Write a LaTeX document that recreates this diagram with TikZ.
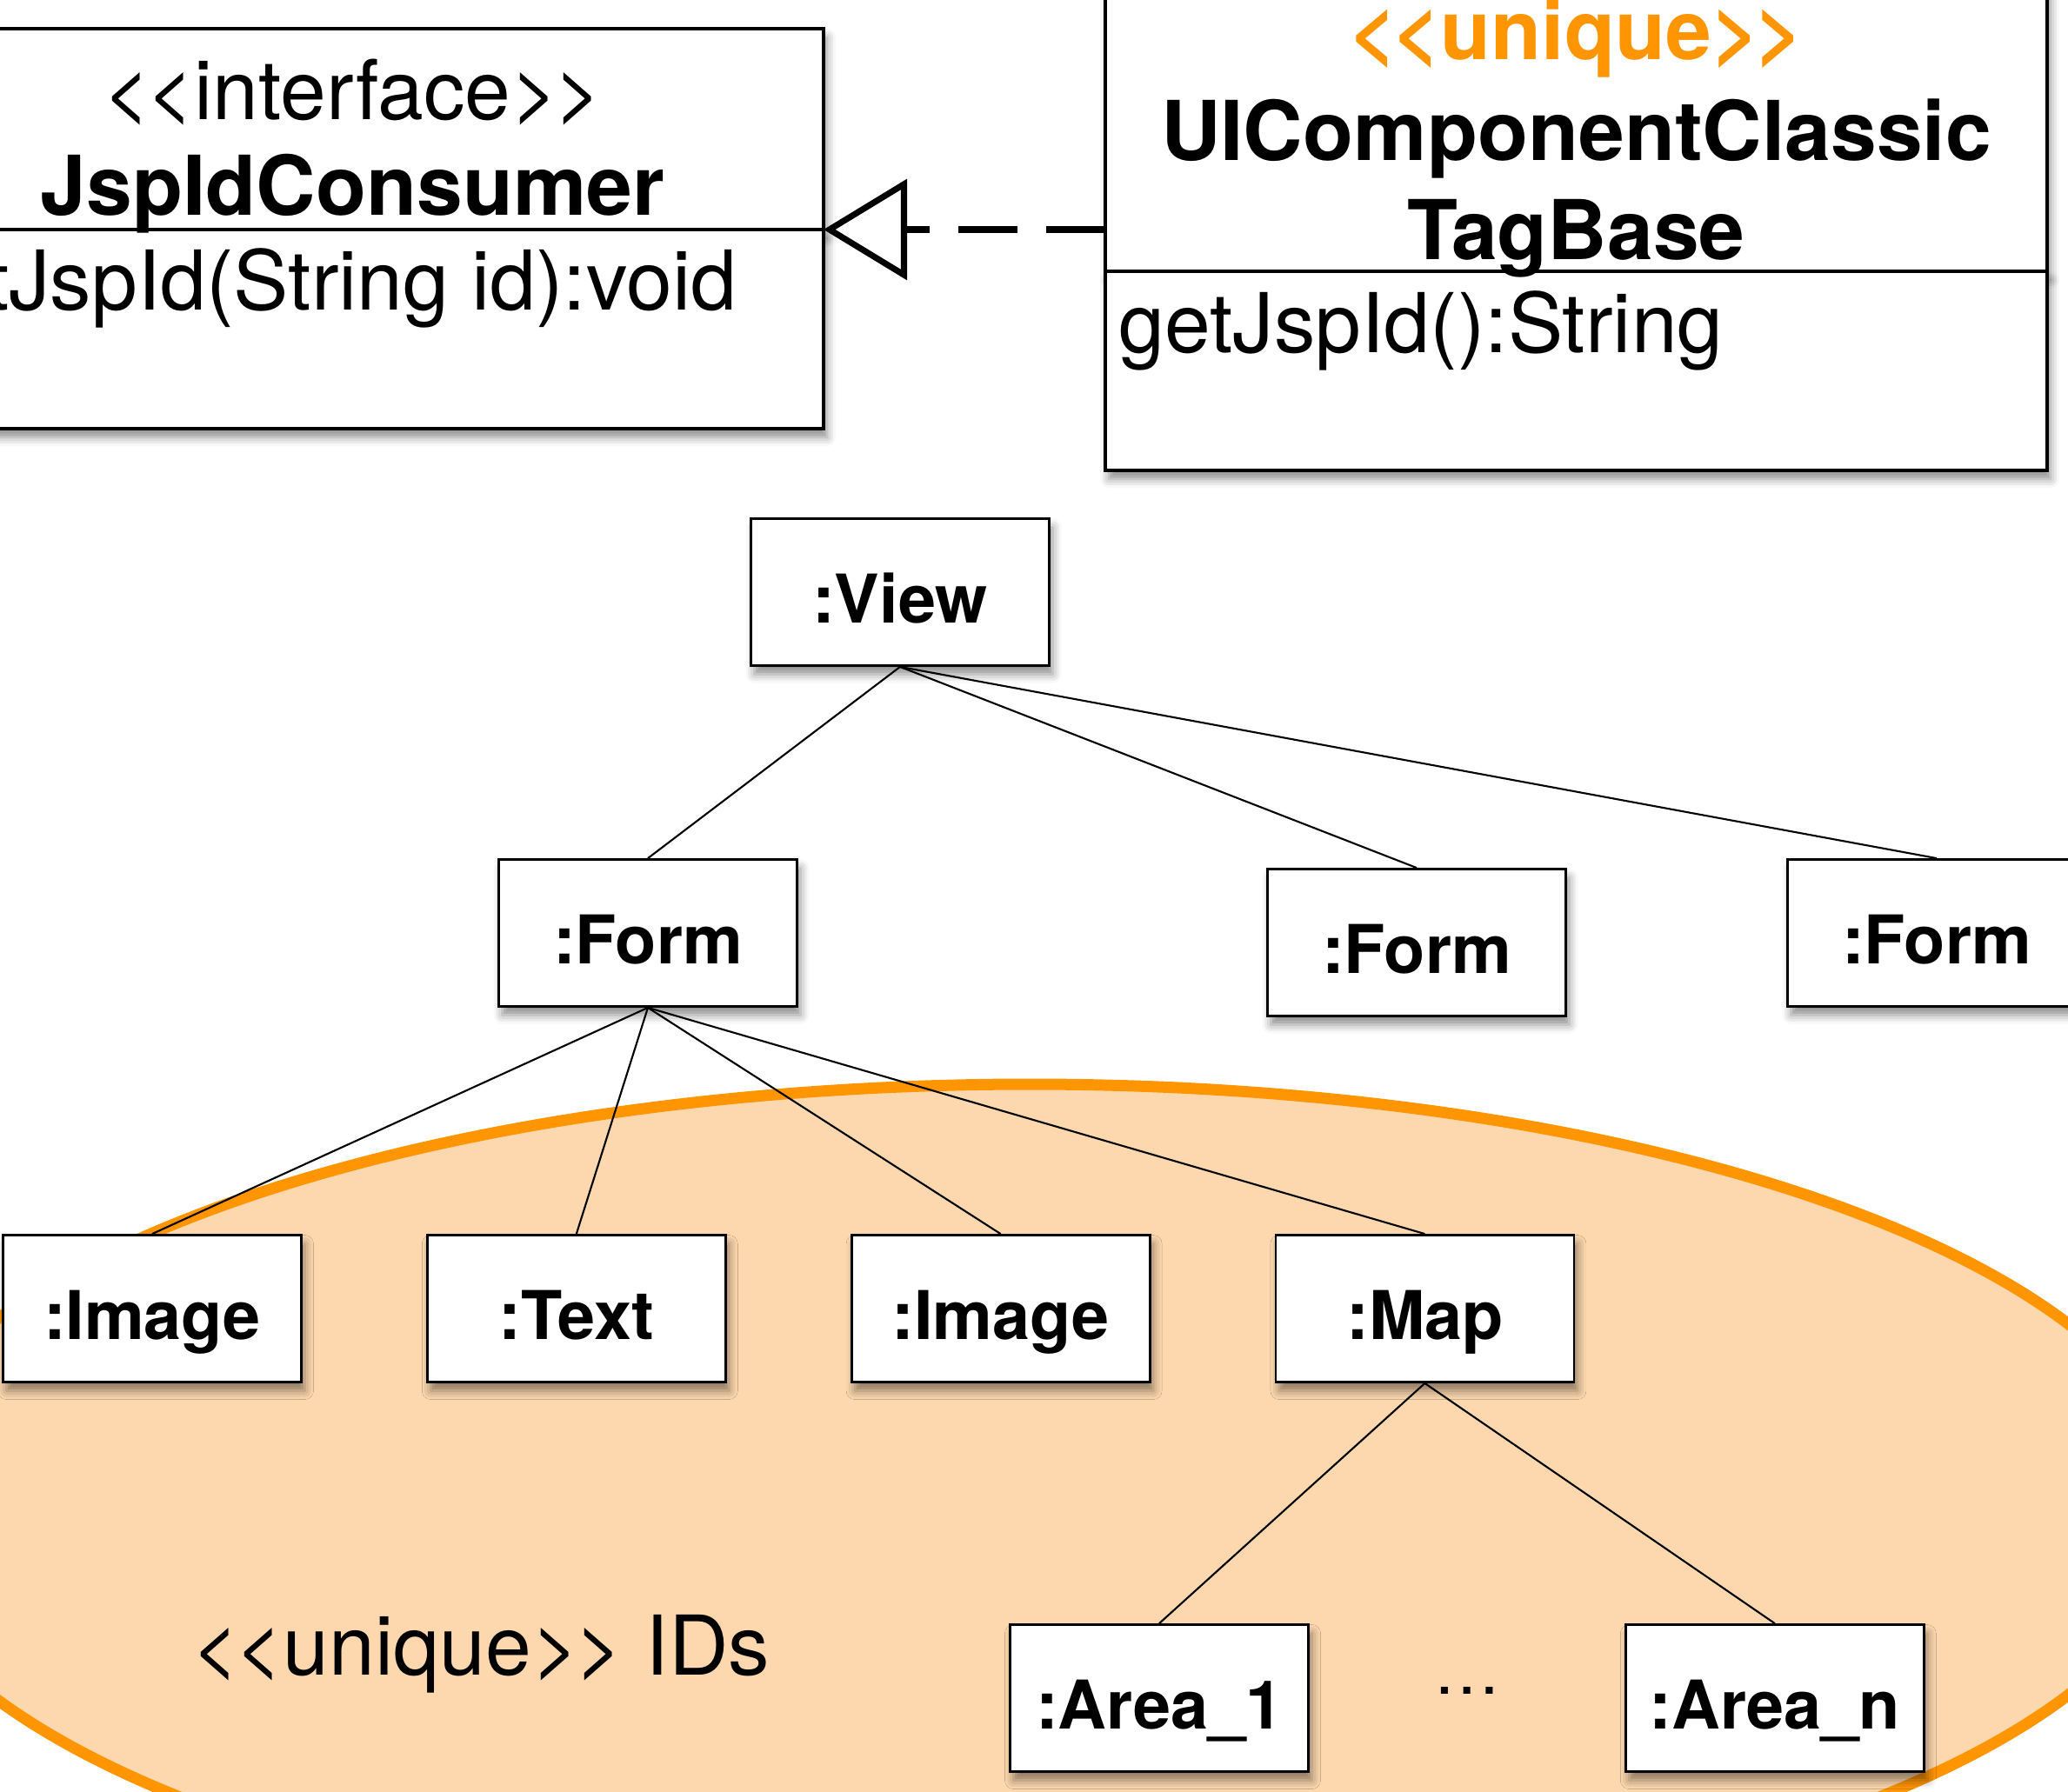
\documentclass[tikz,border=0pt]{standalone}
\usepackage{fontspec}
\setmainfont{TeX Gyre Heros}
\usetikzlibrary{calc,positioning,arrows.meta,shadows.blur}

\definecolor{idorange}{RGB}{255,149,0}
\definecolor{idfill}{RGB}{253,216,174}
\newcommand{\stereotype}[1]{<\kern-0.06em<#1>\kern-0.06em>}
\newcommand{\umlsize}{\fontsize{27}{32}\selectfont}
\newcommand{\instsize}{\fontsize{22}{26}\selectfont}

\begin{document}
\begin{tikzpicture}[
    boxshadow/.style={blur shadow={shadow xshift=0.04cm, shadow yshift=-0.1cm, shadow blur radius=0.1cm, shadow opacity=45}},
    umlpart/.style={draw, fill=white, line width=1.3pt, outer sep=0, minimum width=10.83cm, boxshadow},
    umltext/.style={inner sep=0, font=\umlsize},
    inst/.style={draw, fill=white, line width=0.8pt, minimum width=3.43cm, minimum height=1.69cm,
      text height=0.9cm, text depth=0.2cm, font=\instsize\bfseries, boxshadow},
    link/.style={line width=0.6pt},
    realize/.style={line width=2pt, dash pattern=on 0.68cm off 0.33cm,
      -{Triangle[open, length=0.96cm, width=1.15cm]}},
  ]
  \useasboundingbox (0,0) rectangle (23.78,-20.61);
  \clip (0,0) rectangle (23.78,-20.61);

  % unique id region
  \draw[idorange, fill=idfill, line width=0.13cm]
    (11.84,-17.36) ellipse [x radius=13.27cm, y radius=4.89cm];

  % interface box
  \node[umlpart, minimum height=2.31cm, anchor=north west] (ifc) at (-1.36,-0.33) {};
  \node[umlpart, minimum height=2.29cm, anchor=north] (ifcops) at (ifc.south) {};
  \node[umltext, anchor=base] (ifcstereo) at ($(ifc.north)+(0,-1.04)$) {\stereotype{interface}};
  \node[umltext, font=\umlsize\bfseries, anchor=base] (ifcname) at ($(ifc.north)+(0,-2.14)$) {JspIdConsumer};
  \node[umltext, anchor=base west] (ifcop) at ($(ifcops.north west)+(0.2,-0.92)$) {setJspId(String id):void};

  % tag base class box
  \node[umlpart, minimum height=3.48cm, anchor=north west] (uic) at (12.71,0.36) {};
  \node[umlpart, minimum height=2.29cm, anchor=north] (uicops) at (uic.south) {};
  \node[umltext, text=idorange, font=\umlsize\bfseries, anchor=base] (uicstereo) at ($(uic.north)+(0,-1.04)$) {\stereotype{unique}};
  \node[umltext, font=\umlsize\bfseries, anchor=base] (uicname1) at ($(uic.north)+(0,-2.20)$) {UIComponentClassic};
  \node[umltext, font=\umlsize\bfseries, anchor=base] (uicname2) at ($(uic.north)+(0,-3.34)$) {TagBase};
  \node[umltext, anchor=base west] (uicop) at ($(uicops.north west)+(0.15,-0.93)$) {getJspId():String};

  % realization
  \draw[realize] (uic.west |- ifc.south east) -- (ifc.south east);

  % component tree
  \node[inst] (view) at (10.35,-6.81) {:View};
  \node[inst] (form1) at (7.45,-10.73) {:Form};
  \node[inst] (form2) at (16.29,-10.84) {:Form};
  \node[inst] (form3) at (22.27,-10.73) {:Form};
  \node[inst] (img1) at (1.75,-15.05) {:Image};
  \node[inst, right=1.42 of img1] (text) {:Text};
  \node[inst, right=1.42 of text] (img2) {:Image};
  \node[inst, right=1.42 of img2] (map) {:Map};
  \node[inst] (area1) at (13.33,-19.53) {:Area\_1};
  \node[inst, right=3.62 of area1] (arean) {:Area\_n};
  \node[font=\instsize, inner sep=0] (adots) at ($(area1)!0.5!(arean)+(0,0.09)$) {\dots};

  \node[umltext, anchor=base west] (idlabel) at (2.20,-19.26) {\stereotype{unique} IDs};

  % tree lines
  \draw[link] (view.south) -- (form1.north);
  \draw[link] (view.south) -- (form2.north);
  \draw[link] (view.south) -- (form3.north);
  \draw[link] (form1.south) -- (img1.north);
  \draw[link] (form1.south) -- (text.north);
  \draw[link] (form1.south) -- (img2.north);
  \draw[link] (form1.south) -- (map.north);
  \draw[link] (map.south) -- (area1.north);
  \draw[link] (map.south) -- (arean.north);

\end{tikzpicture}
\end{document}
